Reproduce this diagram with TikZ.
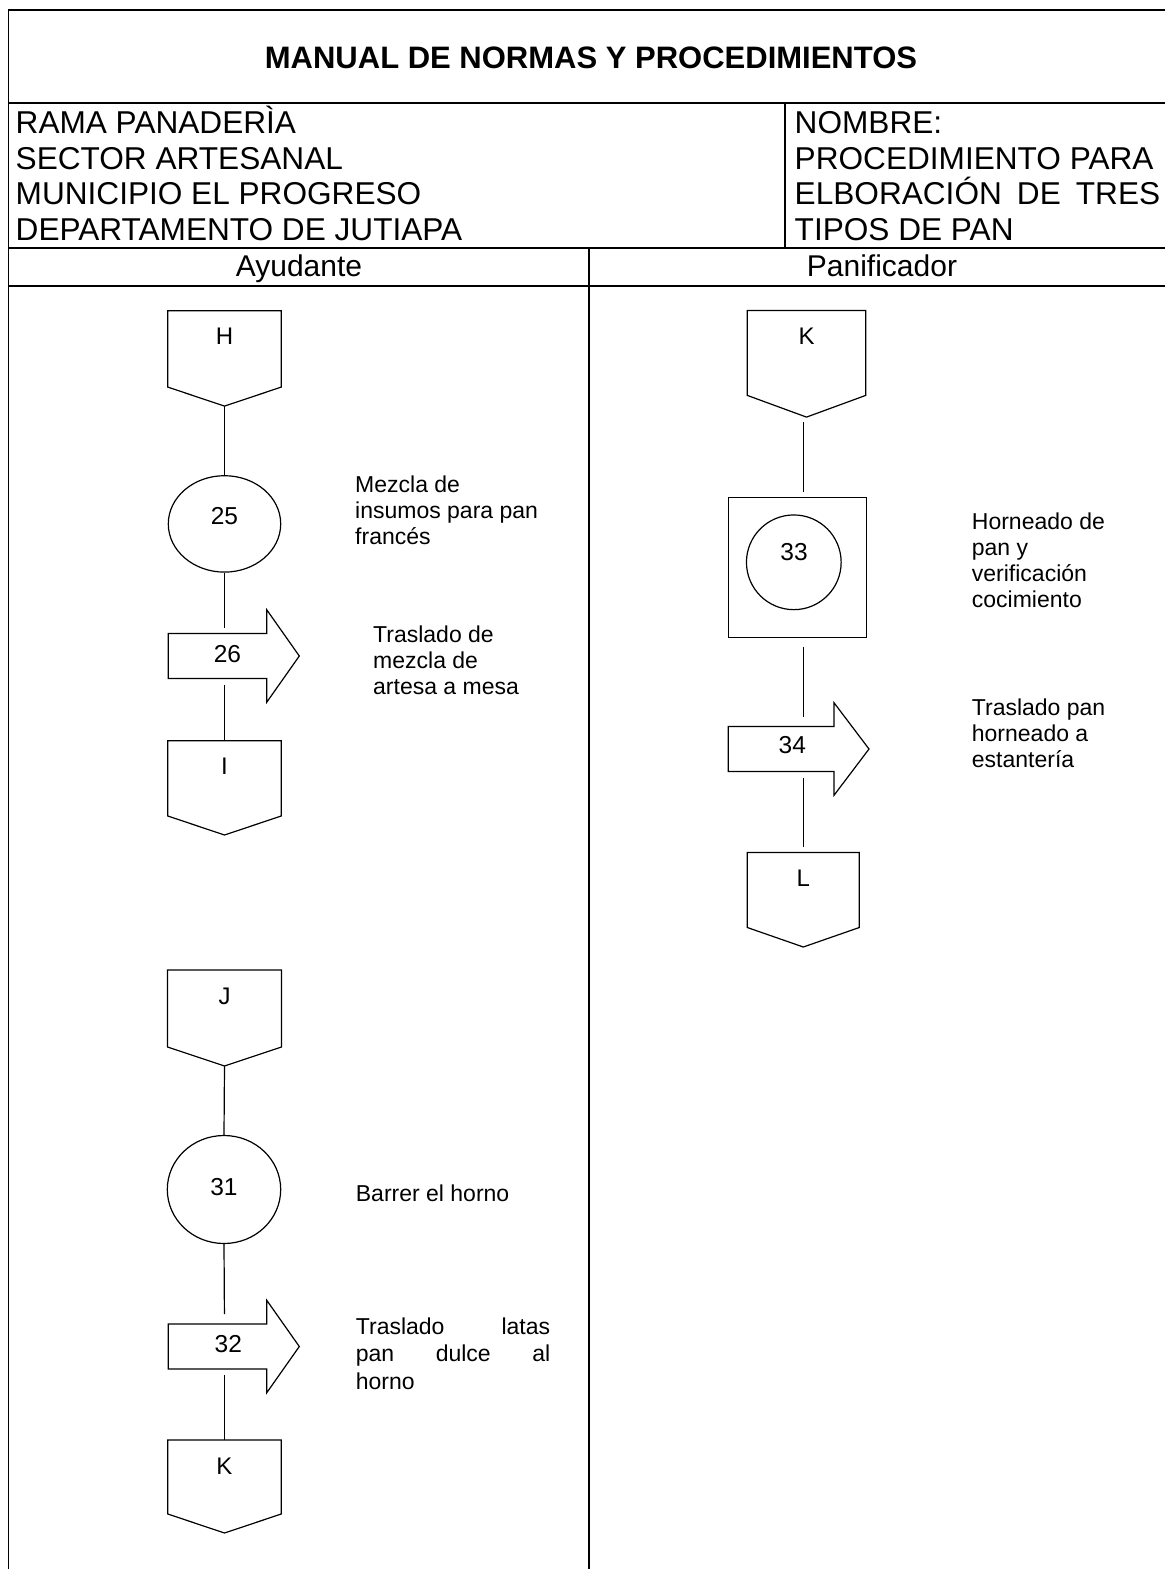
\documentclass[tikz,border=0pt]{standalone}
\usepackage{fontspec}
\setmainfont{Liberation Sans}
\usetikzlibrary{shapes.geometric}

% off-page connector: name, centre x, half width, top y, shoulder y, tip y, letter
\newcommand{\offpage}[7]{%
  \draw[shp] (#2-#3,#4) -- (#2+#3,#4) -- (#2+#3,#5) -- (#2,#6) -- (#2-#3,#5) -- cycle;
  \coordinate (#1top) at (#2,#4);
  \coordinate (#1tip) at (#2,#6);
  \node[lettr] (#1) at (#2,#4+26) {#7};}

% transport arrow: name, left x, head base x, tip x, centre y, flow-line x
\newcommand{\movearrow}[6]{%
  \draw[shp] (#2,#5-22.5) -- (#3,#5-22.5) -- (#3,#5-46.3) -- (#4,#5)
     -- (#3,#5+46.3) -- (#3,#5+22.5) -- (#2,#5+22.5) -- cycle;
  \coordinate (#1top) at (#6,#5-22.5);
  \coordinate (#1bot) at (#6,#5+22.5);}

\begin{document}
\begin{tikzpicture}[x=1pt,y=-1pt,
  grid/.style={line width=1.9pt},
  shp/.style={line width=1.2pt, line join=miter},
  link/.style={line width=1.2pt},
  hdr/.style={font=\fontsize{31.6}{35.5}\selectfont, inner sep=0, anchor=north west, align=left},
  lane/.style={font=\fontsize{30}{34}\selectfont, inner sep=0, anchor=base},
  lettr/.style={font=\fontsize{24}{28}\selectfont, inner sep=0},
  num/.style={font=\fontsize{24.5}{28}\selectfont, inner sep=0},
  note/.style={font=\fontsize{23}{26}\selectfont, inner sep=0, anchor=north west, align=left},
]
\useasboundingbox (0,0) rectangle (1165,1569);
\fill[white] (0,0) rectangle (1165,1569);

% ---- header table ----
\draw[grid] (1165,10) -- (8.5,10) -- (8.5,1569);
\draw[grid] (8.5,103.3) -- (1165,103.3);
\draw[grid] (8.5,248) -- (1165,248);
\draw[grid] (8.5,286) -- (1165,286);
\draw[grid] (785,103.3) -- (785,248);
\draw[grid] (589,248) -- (589,1569);

\node[font=\fontsize{31}{34}\selectfont\bfseries, inner sep=0, anchor=base] (title)
  at (591,68.3) {MANUAL DE NORMAS Y PROCEDIMIENTOS};

\node[hdr] (rama) at (15.5,133.3-30)
  {\rule{0pt}{30pt}RAMA PANADERÌA\\SECTOR ARTESANAL\\MUNICIPIO EL PROGRESO\\DEPARTAMENTO DE JUTIAPA};
\node[hdr] (nombre) at (794.5,133.3-30)
  {\rule{0pt}{30pt}NOMBRE:\\PROCEDIMIENTO PARA\\\makebox[365.5pt][s]{ELBORACIÓN DE TRES}\\TIPOS DE PAN};

\node[lane] (ayudante) at (299,276.7) {Ayudante};
\node[lane] (panificador) at (882,276.7) {Panificador};

% ---- Ayudante, first sequence ----
\offpage{H}{224.5}{56.7}{310.7}{387.1}{406.1}{H}
\node[draw, shp, ellipse, minimum width=112.4pt, minimum height=96.4pt, inner sep=0] (e25) at (224.5,523.9) {};
\node[num] (n25) at (224.5,515.7) {25};
\movearrow{a26}{168.3}{266.7}{299.3}{656}{224.5}
\node[num] (n26) at (227.5,654.3) {26};
\offpage{I}{224.5}{56.7}{740.7}{816}{835}{I}

\draw[link] (Htip) -- (e25.north);
\draw[link, shorten >=6pt] (e25.south) -- (a26top);
\draw[link, shorten <=6pt] (a26bot) -- (Itop);

\node[note] (t25) at (355,491.8-20) {\rule{0pt}{20pt}Mezcla de\\insumos para pan\\francés};
\node[note] (t26) at (373,641.8-20) {\rule{0pt}{20pt}Traslado de\\mezcla de\\artesa a mesa};

% ---- Ayudante, second sequence ----
\offpage{J}{224.5}{57}{970}{1047}{1066}{J}
\node[draw, shp, ellipse, minimum width=113.4pt, minimum height=108pt, inner sep=0] (e31) at (224,1189.5) {};
\node[num] (n31) at (224,1186.7) {31};
\movearrow{a32}{168.3}{266.7}{299.3}{1346.5}{224.5}
\node[num] (n32) at (228.3,1343.6) {32};
\offpage{Kb}{224.5}{56.7}{1440}{1514}{1533}{K}

\draw[link] (Jtip) -- (e31.north);
\draw[link, shorten >=10pt] (e31.south) -- (a32top);
\draw[link, shorten <=6pt] (a32bot) -- (Kbtop);

\node[note] (t31) at (355.7,1201-20) {\rule{0pt}{20pt}Barrer el horno};
\node[note, font=\fontsize{23}{27.5}\selectfont] (t32) at (355.7,1334-20)
  {\rule{0pt}{20pt}\makebox[194.3pt][s]{Traslado latas}\\\makebox[194.3pt][s]{pan dulce al}\\horno};

% ---- Panificador ----
\coordinate (colR) at (803.3,0);
\offpage{K}{806.5}{59.2}{310.4}{395.4}{417.1}{K}
\node[draw, shp, minimum width=138.4pt, minimum height=140.5pt, inner sep=0] (s33) at (797.5,567.5) {};
\node[draw, shp, circle, minimum size=94.7pt, inner sep=0] (c33) at (793.8,562.3) {};
\node[num] (n33) at (794,552.4) {33};
\movearrow{a34}{728.3}{834}{869}{749}{803.3}
\node[num] (n34) at (792.3,745.3) {34};
\offpage{L}{803.3}{56}{852.4}{927.5}{947}{L}

\draw[link, shorten <=5pt, shorten >=5pt] (Ktip -| colR) -- (s33.north -| colR);
\draw[link, shorten <=9pt, shorten >=10pt] (s33.south -| colR) -- (a34top);
\draw[link, shorten <=6pt, shorten >=5pt] (a34bot) -- (Ltop -| colR);

\node[note] (t33) at (971.7,529.4-20) {\rule{0pt}{20pt}Horneado de\\pan y\\verificación\\cocimiento};
\node[note] (t34) at (971.7,715-20) {\rule{0pt}{20pt}Traslado pan\\horneado a\\estantería};
\end{tikzpicture}
\end{document}
